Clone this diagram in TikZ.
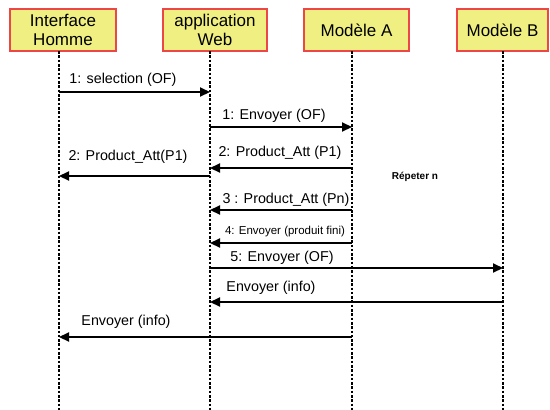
\documentclass[tikz,border=0pt]{standalone}
\usepackage{fontspec}
\setmainfont{Liberation Sans}
\usetikzlibrary{arrows.meta}
\definecolor{boxfill}{RGB}{240,240,130}
\definecolor{boxline}{RGB}{238,70,70}
\begin{document}
\begin{tikzpicture}[x=1pt,y=-1pt,
  actor/.style={draw=boxline,fill=boxfill,line width=1.3pt,inner sep=0pt,
    minimum height=42pt,align=center,font=\fontsize{17}{19.5}\selectfont},
  lifeline/.style={line width=2.4pt,dash pattern=on 2.6pt off 1.7pt},
  msg/.style={line width=2.2pt,-{Triangle[length=10pt,width=9pt]}},
  lbl/.style={inner sep=0pt,font=\fontsize{14.3}{16}\selectfont}]
\useasboundingbox (0,0) rectangle (550,410);
% actors
\node[actor,minimum width=106pt] (ih) at (63,30) {Interface\\Homme};
\node[actor,minimum width=104pt] (aw) at (215,30) {application\\Web};
\node[actor,minimum width=105pt] (ma) at (356.5,30) {Modèle A};
\node[actor,minimum width=91pt] (mb) at (502.5,30) {Modèle B};
% lifelines
\coordinate (L1) at (59,51);
\coordinate (L2) at (210,51);
\coordinate (L3) at (352,51);
\coordinate (L4) at (503,51);
\coordinate (B1) at (59,410);
\coordinate (B2) at (210,410);
\coordinate (B3) at (352,410);
\coordinate (B4) at (503,410);
\draw[lifeline] (L1) -- (B1);
\draw[lifeline] (L2) -- (B2);
\draw[lifeline] (L3) -- (B3);
\draw[lifeline] (L4) -- (B4);
% messages
\draw[msg] (L1 |- 0,92) -- (L2 |- 0,92);
\node[lbl] (t1) at (123,80) {1: selection (OF)};
\draw[msg] (L2 |- 0,127) -- (L3 |- 0,127);
\node[lbl] (t2) at (274,116) {1: Envoyer (OF)};
\draw[msg] (L3 |- 0,168) -- (L2 |- 0,168);
\node[lbl] (t3) at (280,153) {2: Product\_Att (P1)};
\draw[msg] (L2 |- 0,176) -- (L1 |- 0,176);
\node[lbl] (t4) at (128,157) {2: Product\_Att(P1)};
\draw[msg] (L3 |- 0,210) -- (L2 |- 0,210);
\node[lbl] (t5) at (286,200) {3 : Product\_Att (Pn)};
\draw[msg] (L3 |- 0,243) -- (L2 |- 0,243);
\node[lbl,font=\fontsize{11.5}{13}\selectfont] (t6) at (285,232) {4: Envoyer (produit fini)};
\draw[msg] (L2 |- 0,268) -- (L4 |- 0,268);
\node[lbl] (t7) at (282,258) {5: Envoyer (OF)};
\draw[msg] (L4 |- 0,302) -- (L2 |- 0,302);
\node[lbl] (t8) at (271,288) {Envoyer (info)};
\draw[msg] (L3 |- 0,337) -- (L1 |- 0,337);
\node[lbl] (t9) at (126,322) {Envoyer (info)};
\node[lbl,font=\fontsize{10}{12}\bfseries] (rep) at (415,177) {Répeter n};
\end{tikzpicture}
\end{document}
